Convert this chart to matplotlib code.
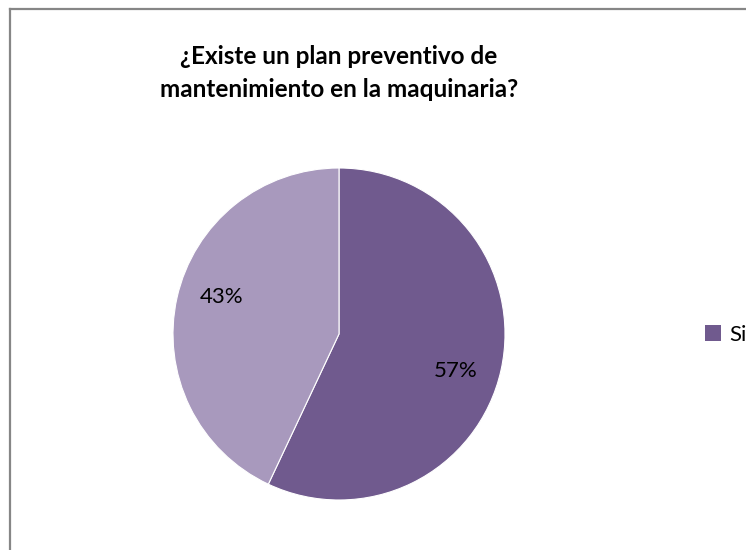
import numpy as np
import matplotlib
matplotlib.use("Agg")
import matplotlib.pyplot as plt
from matplotlib.lines import Line2D
from matplotlib.patches import Patch

title_lines = ["¿Existe un plan preventivo de", "mantenimiento en la maquinaria?"]
labels = ["Si", "No"]
shares = [57, 43]
colors = ["#705A8E", "#A899BD"]

W, H = 746, 550
plt.rcParams['font.family'] = ['Lato', 'DejaVu Sans']

fig = plt.figure(figsize=(W / 100, H / 100), dpi=100)
fig.patch.set_facecolor("white")

# pie axes: centre (339, 334) px, radius 166 px
cx, cy, r = 339, 334, 166
ax = fig.add_axes([(cx - r) / W, (H - cy - r) / H, 2 * r / W, 2 * r / H])
wedges, _, pcts = ax.pie(shares, colors=colors, startangle=90, counterclock=False,
                         autopct="%d%%", pctdistance=0.74,
                         wedgeprops=dict(edgecolor="white", linewidth=0.8),
                         textprops=dict(fontsize=16, color="black"))

# nudge the percentage labels a little clockwise of the slice middle
for w, t in zip(wedges, pcts):
    mid = np.deg2rad((w.theta1 + w.theta2) / 2 - 5)
    t.set_position((0.74 * np.cos(mid), 0.74 * np.sin(mid)))

ax.set_xlim(-1, 1)
ax.set_ylim(-1, 1)
ax.set_aspect("equal")
ax.axis("off")

# title
fig.text(cx / W, 1 - 57 / H, title_lines[0], ha="center", va="center",
         fontsize=17.5, fontweight="bold")
fig.text(cx / W, 1 - 90 / H, title_lines[1], ha="center", va="center",
         fontsize=17.5, fontweight="bold")

# legend (only first entry shows)
leg = fig.legend(handles=[Patch(facecolor=colors[0], edgecolor="none")],
                 labels=[labels[0]], loc="center left",
                 bbox_to_anchor=(705 / W, 1 - 335 / H), frameon=False,
                 fontsize=16, handlelength=0.7, handleheight=0.7,
                 handletextpad=0.4, borderpad=0, borderaxespad=0)

# chart border (left and top edges)
border = dict(color="#868686", linewidth=1.6, transform=fig.transFigure)
fig.add_artist(Line2D([10 / W, 10 / W], [-0.01, 1 - 9 / H], **border))
fig.add_artist(Line2D([10 / W, 1.01], [1 - 9 / H, 1 - 9 / H], **border))

fig.savefig("out.png", dpi=100)
